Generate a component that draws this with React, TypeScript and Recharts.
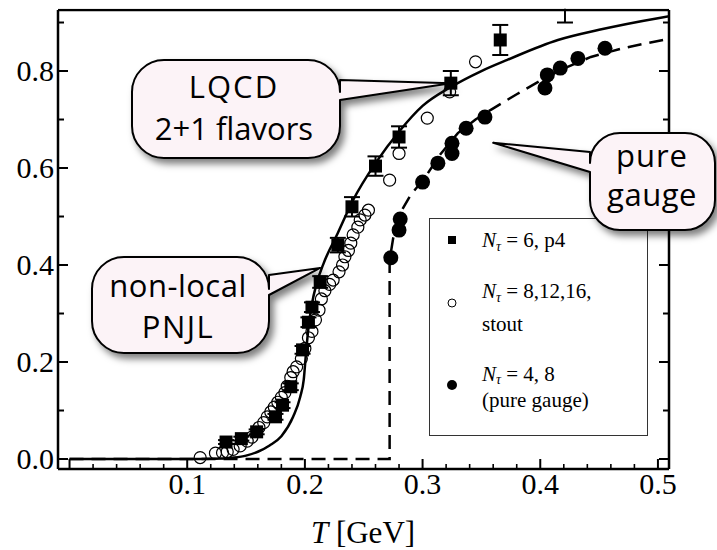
import React from "react";
import { ComposedChart, Line, Scatter, XAxis, YAxis, ErrorBar } from "recharts";

const W = 717;
const H = 550;
// plot area: left 58, top 10, right 669, bottom 469 (axes take 1px each)
const MARGIN = { top: 9, right: 47, bottom: 80, left: 57 };
const X_DOMAIN: [number, number] = [-0.0098, 0.5094];
const Y_DOMAIN: [number, number] = [-0.0206, 0.9258];

const X_TICKS = [
  0, 0.02, 0.04, 0.06, 0.08, 0.1, 0.12, 0.14, 0.16, 0.18, 0.2, 0.22, 0.24, 0.26, 0.28, 0.3,
  0.32, 0.34, 0.36, 0.38, 0.4, 0.42, 0.44, 0.46, 0.48, 0.5,
];
const X_LABELS = ["0.1", "0.2", "0.3", "0.4", "0.5"];
const Y_TICKS = [0, 0.1, 0.2, 0.3, 0.4, 0.5, 0.6, 0.7, 0.8, 0.9];
const Y_LABELS = ["0.0", "0.2", "0.4", "0.6", "0.8"];

// non-local PNJL (solid)
const PNJL_T = [0, 0.11, 0.13, 0.14, 0.15, 0.16, 0.17, 0.18, 0.19, 0.196, 0.199, 0.201, 0.203, 0.206, 0.21, 0.216, 0.228, 0.241, 0.26, 0.281, 0.3, 0.324, 0.35, 0.372, 0.415, 0.45, 0.5, 0.515];
const PNJL_PHI = [0, 0, 0.001, 0.003, 0.007, 0.015, 0.028, 0.047, 0.087, 0.128, 0.163, 0.22, 0.27, 0.32, 0.362, 0.404, 0.466, 0.534, 0.61, 0.678, 0.728, 0.767, 0.8, 0.823, 0.864, 0.885, 0.909, 0.915];

// pure gauge model (dashed)
const GAUGE_T = [0, 0.272, 0.272, 0.275, 0.281, 0.29, 0.302, 0.315, 0.33, 0.345, 0.358, 0.38, 0.4, 0.42, 0.443, 0.47, 0.49, 0.515];
const GAUGE_PHI = [0, 0, 0.41, 0.455, 0.507, 0.545, 0.58, 0.628, 0.672, 0.7, 0.72, 0.752, 0.78, 0.805, 0.829, 0.847, 0.857, 0.869];

// N_tau = 6, p4 (squares with error bars)
const P4_T = [0.133, 0.146, 0.159, 0.175, 0.181, 0.188, 0.198, 0.203, 0.206, 0.213, 0.228, 0.24, 0.26, 0.28, 0.324, 0.366, 0.421];
const P4_PHI = [0.035, 0.042, 0.056, 0.087, 0.111, 0.149, 0.225, 0.282, 0.313, 0.365, 0.441, 0.52, 0.604, 0.664, 0.775, 0.864, 0.95];
const P4_ERR = [0.004, 0.004, 0.005, 0.006, 0.006, 0.007, 0.008, 0.01, 0.01, 0.012, 0.015, 0.02, 0.02, 0.022, 0.025, 0.031, 0.05];

// N_tau = 8,12,16 stout (open circles)
const STOUT_T = [0.111, 0.124, 0.13, 0.134, 0.139, 0.145, 0.151, 0.155, 0.161, 0.165, 0.168, 0.171, 0.174, 0.177, 0.18, 0.183, 0.185, 0.188, 0.19, 0.193, 0.197, 0.2, 0.203, 0.206, 0.209, 0.212, 0.214, 0.217, 0.221, 0.224, 0.229, 0.232, 0.234, 0.237, 0.239, 0.241, 0.245, 0.247, 0.251, 0.254, 0.272, 0.28, 0.304, 0.323, 0.345];
const STOUT_PHI = [0.003, 0.012, 0.013, 0.015, 0.02, 0.027, 0.037, 0.045, 0.065, 0.075, 0.087, 0.097, 0.107, 0.117, 0.127, 0.137, 0.15, 0.168, 0.18, 0.19, 0.207, 0.228, 0.25, 0.263, 0.287, 0.307, 0.33, 0.347, 0.36, 0.369, 0.386, 0.4, 0.417, 0.43, 0.445, 0.462, 0.478, 0.493, 0.503, 0.513, 0.575, 0.63, 0.703, 0.757, 0.819];

// N_tau = 4, 8 pure gauge lattice (filled circles)
const PG_T = [0.273, 0.28, 0.281, 0.3, 0.313, 0.325, 0.325, 0.337, 0.353, 0.404, 0.406, 0.417, 0.432, 0.455];
const PG_PHI = [0.415, 0.472, 0.495, 0.571, 0.61, 0.63, 0.651, 0.682, 0.705, 0.765, 0.792, 0.806, 0.826, 0.847];

const pnjl = PNJL_T.map((t, i) => ({ t, v: PNJL_PHI[i] }));
const gauge = GAUGE_T.map((t, i) => ({ t, v: GAUGE_PHI[i] }));
const p4 = P4_T.map((t, i) => ({ t, v: P4_PHI[i], err: P4_ERR[i] }));
const stout = STOUT_T.map((t, i) => ({ t, v: STOUT_PHI[i] }));
const pureGauge = PG_T.map((t, i) => ({ t, v: PG_PHI[i] }));

const SERIF = "'Liberation Serif', 'Times New Roman', serif";
const SANS = "'Open Sans', 'Noto Sans', sans-serif";
const serifStyle = { fontFamily: SERIF, fontSize: 30 };

const isMajor = (v: number) => Math.abs(v * 10 - Math.round(v * 10)) < 1e-6;
const isMajorY = (v: number) => Math.abs(v * 5 - Math.round(v * 5)) < 1e-6;

const BottomTick = (p: any) => {
  const v = p.payload.value;
  const major = isMajor(v);
  const label = X_LABELS.find((s) => Math.abs(parseFloat(s) - v) < 1e-6);
  const y = p.y - 1;
  return (
    <g>
      <line x1={p.x} x2={p.x} y1={y} y2={y - (major ? 9 : 4)} stroke="#000" strokeWidth={major ? 2 : 1.6} />
      {label && (
        <text x={p.x} y={y + 26} textAnchor="middle" style={serifStyle} fill="#000">
          {label}
        </text>
      )}
    </g>
  );
};

const TopTick = (p: any) => {
  const major = isMajor(p.payload.value);
  const y = p.y + 1;
  return <line x1={p.x} x2={p.x} y1={y} y2={y + (major ? 9 : 4)} stroke="#000" strokeWidth={major ? 2 : 1.6} />;
};

const LeftTick = (p: any) => {
  const v = p.payload.value;
  const major = isMajorY(v);
  const label = Y_LABELS.find((s) => Math.abs(parseFloat(s) - v) < 1e-6);
  const x = p.x + 1;
  return (
    <g>
      <line x1={x} x2={x + (major ? 9 : 5)} y1={p.y} y2={p.y} stroke="#000" strokeWidth={2} />
      {label && (
        <text x={x - 5} y={p.y + 10} textAnchor="end" style={serifStyle} fill="#000">
          {label}
        </text>
      )}
    </g>
  );
};

const RightTick = (p: any) => {
  const major = isMajorY(p.payload.value);
  const x = p.x - 1;
  return <line x1={x} x2={x - (major ? 9 : 5)} y1={p.y} y2={p.y} stroke="#000" strokeWidth={2} />;
};

const Square = (p: any) => <rect x={p.cx - 6.5} y={p.cy - 6.5} width={13} height={13} fill="#000" />;
const OpenCircle = (p: any) => <circle cx={p.cx} cy={p.cy} r={6} fill="none" stroke="#000" strokeWidth={1.2} />;
const Dot = (p: any) => <circle cx={p.cx} cy={p.cy} r={7.5} fill="#000" />;

// callout geometry (pixels), tips anchored to data coordinates
const plotL = 58;
const plotR = 669;
const plotT = 10;
const plotB = 469;
const sx = (t: number) => plotL + ((t - X_DOMAIN[0]) / (X_DOMAIN[1] - X_DOMAIN[0])) * (plotR - plotL);
const sy = (v: number) => plotB - ((v - Y_DOMAIN[0]) / (Y_DOMAIN[1] - Y_DOMAIN[0])) * (plotB - plotT);

type Bubble = {
  x: number; y: number; w: number; h: number; r: number;
  side: "left" | "right"; b1: number; b2: number;
  tip: [number, number]; cx: number; lines: [string, number, number][];
};

const BUBBLES: Bubble[] = [
  { x: 132, y: 60, w: 208, h: 98, r: 32, side: "right", b1: 80, b2: 100, tip: [0.324, 0.775], cx: 234, lines: [["LQCD", 98, 2], ["2+1 flavors", 140, 0]] },
  { x: 92, y: 257, w: 177, h: 96, r: 32, side: "right", b1: 275, b2: 295, tip: [0.213, 0.394], cx: 178, lines: [["non-local", 297, 0.5], ["PNJL", 338, 1.5]] },
  { x: 590, y: 133, w: 125, h: 97, r: 30, side: "left", b1: 152, b2: 172, tip: [0.36, 0.652], cx: 652, lines: [["pure", 167, 1], ["gauge", 206, 0.5]] },
];

function bubblePath(b: Bubble) {
  const { x, y, w, h, r, b1, b2 } = b;
  const tx = sx(b.tip[0]);
  const ty = sy(b.tip[1]);
  const R = x + w;
  const B = y + h;
  if (b.side === "right") {
    return `M${x + r},${y} H${R - r} A${r},${r} 0 0 1 ${R},${y + r} V${b1} L${tx},${ty} L${R},${b2} V${B - r} A${r},${r} 0 0 1 ${R - r},${B} H${x + r} A${r},${r} 0 0 1 ${x},${B - r} V${y + r} A${r},${r} 0 0 1 ${x + r},${y} Z`;
  }
  return `M${x + r},${y} H${R - r} A${r},${r} 0 0 1 ${R},${y + r} V${B - r} A${r},${r} 0 0 1 ${R - r},${B} H${x + r} A${r},${r} 0 0 1 ${x},${B - r} V${b2} L${tx},${ty} L${x},${b1} V${y + r} A${r},${r} 0 0 1 ${x + r},${y} Z`;
}

function Overlay() {
  return (
    <svg width={W} height={H} style={{ position: "absolute", left: 0, top: 0, pointerEvents: "none" }}>
      <defs>
        <filter id="bubbleShadow" x="-20%" y="-20%" width="150%" height="160%">
          <feDropShadow dx={4} dy={5} stdDeviation={3.5} floodColor="#000" floodOpacity={0.5} />
        </filter>
      </defs>

      {/* keep error bars of off-scale points inside the frame */}
      <rect x={0} y={0} width={W} height={8.7} fill="#fff" />

      {/* legend */}
      <rect x={429.5} y={218.5} width={218} height={217} fill="#fff" stroke="#333" strokeWidth={1} />
      <rect x={448} y={236} width={8} height={8} fill="#000" />
      <circle cx={452} cy={303} r={4} fill="#fff" stroke="#000" strokeWidth={1} />
      <circle cx={452} cy={385} r={5} fill="#000" />
      <g style={{ fontFamily: SERIF, fontSize: 21 }} fill="#000">
        <text x={482} y={247}>
          <tspan fontStyle="italic">N</tspan>
          <tspan fontStyle="italic" fontSize={14} dy={4}>τ</tspan>
          <tspan dy={-4}> = 6, p4</tspan>
        </text>
        <text x={482} y={298}>
          <tspan fontStyle="italic">N</tspan>
          <tspan fontStyle="italic" fontSize={14} dy={4}>τ</tspan>
          <tspan dy={-4}> = 8,12,16,</tspan>
        </text>
        <text x={482} y={331}>stout</text>
        <text x={482} y={381}>
          <tspan fontStyle="italic">N</tspan>
          <tspan fontStyle="italic" fontSize={14} dy={3}>τ</tspan>
          <tspan dy={-3}> = 4, 8</tspan>
        </text>
        <text x={482} y={407}>(pure gauge)</text>
      </g>

      {/* callouts */}
      {BUBBLES.map((b, i) => (
        <g key={i}>
          <path d={bubblePath(b)} fill="#fcf3f7" stroke="#000" strokeWidth={2} strokeLinejoin="round" filter="url(#bubbleShadow)" />
          {b.lines.map(([s, y, ls], j) => (
            <text key={j} x={b.cx} y={y} textAnchor="middle" style={{ fontFamily: SANS, fontSize: 31, letterSpacing: ls }} fill="#000">
              {s}
            </text>
          ))}
        </g>
      ))}

      {/* axis title */}
      <text x={363} y={543} textAnchor="middle" style={{ fontFamily: SERIF, fontSize: 31 }} fill="#000">
        <tspan fontStyle="italic">T</tspan> [GeV]
      </text>
    </svg>
  );
}

export default function App() {
  return (
    <div style={{ position: "absolute", left: 0, top: 0, width: W, height: H, background: "#fff" }}>
      <ComposedChart width={W} height={H} margin={MARGIN}>
        <XAxis
          type="number"
          dataKey="t"
          domain={X_DOMAIN}
          allowDataOverflow
          ticks={X_TICKS}
          interval={0}
          height={1}
          tickSize={0}
          tickMargin={0}
          tick={BottomTick}
          axisLine={{ stroke: "#000", strokeWidth: 2.5 }}
        />
        <XAxis
          xAxisId="top"
          orientation="top"
          type="number"
          domain={X_DOMAIN}
          allowDataOverflow
          ticks={X_TICKS}
          interval={0}
          height={1}
          tickSize={0}
          tickMargin={0}
          tick={TopTick}
          axisLine={{ stroke: "#000", strokeWidth: 2.5 }}
        />
        <YAxis
          type="number"
          dataKey="v"
          domain={Y_DOMAIN}
          allowDataOverflow
          ticks={Y_TICKS}
          interval={0}
          width={1}
          tickSize={0}
          tickMargin={0}
          tick={LeftTick}
          axisLine={{ stroke: "#000", strokeWidth: 2.5 }}
        />
        <YAxis
          yAxisId="right"
          orientation="right"
          type="number"
          domain={Y_DOMAIN}
          allowDataOverflow
          ticks={Y_TICKS}
          interval={0}
          width={1}
          tickSize={0}
          tickMargin={0}
          tick={RightTick}
          axisLine={{ stroke: "#000", strokeWidth: 2.5 }}
        />
        <Line data={gauge} dataKey="v" type="linear" stroke="#000" strokeWidth={2.5} strokeDasharray="14 8" dot={false} isAnimationActive={false} />
        <Scatter data={stout} dataKey="v" shape={OpenCircle} isAnimationActive={false} />
        <Line data={pnjl} dataKey="v" type="monotone" stroke="#000" strokeWidth={2.5} dot={false} isAnimationActive={false} />
        <Scatter data={pureGauge} dataKey="v" shape={Dot} isAnimationActive={false} />
        <Scatter data={p4} dataKey="v" shape={Square} isAnimationActive={false}>
          <ErrorBar dataKey="err" direction="y" width={8} stroke="#000" strokeWidth={2} />
        </Scatter>
      </ComposedChart>
      <Overlay />
    </div>
  );
}
